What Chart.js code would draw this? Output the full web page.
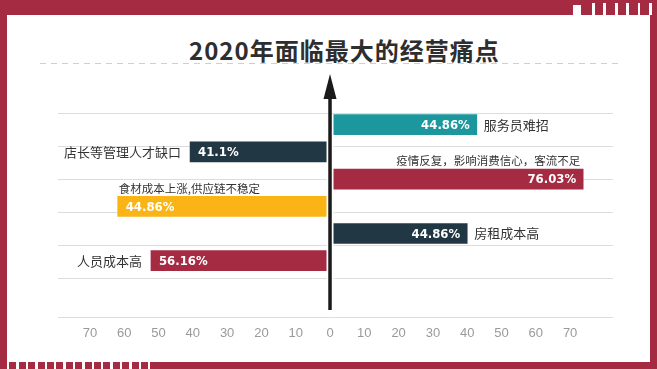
<!DOCTYPE html>
<html>
<head>
<meta charset="utf-8">
<script src="https://cdn.jsdelivr.net/npm/chart.js@4.4.1/dist/chart.umd.min.js"></script>
<style>
  body { margin: 0; background: #fff; }
  #wrap { position: relative; width: 657px; height: 369px; overflow: hidden; background: #fff; }
  .red { position: absolute; background: #a52b42; }
  .white { position: absolute; background: #fff; }
  #title {
    position: absolute; left: 189px; top: 32px; line-height: 24px;
    font: bold 24px "Noto Sans CJK SC", sans-serif; letter-spacing: 1px; color: #2e2e2e;
    white-space: nowrap;
  }
  #dash {
    position: absolute; left: 40px; top: 63px; width: 580px; height: 1px;
    background: repeating-linear-gradient(90deg, #cfcfcf 0 6px, transparent 6px 11px);
  }
  canvas { position: absolute; left: 0; top: 0; }
</style>
</head>
<body>
<div id="wrap">
  <div class="red" style="left:0;top:0;width:657px;height:15px"></div>
  <div class="red" style="left:0;top:0;width:7px;height:362px"></div>
  <div class="red" style="left:650px;top:0;width:7px;height:369px"></div>
  <div class="red" style="left:152px;top:362px;width:505px;height:7px"></div>
  <div style="position:absolute;left:0;top:362px;width:152px;height:7px;background:repeating-linear-gradient(90deg,#a52b42 0 7px,#fff 7px 9.4px)"></div>
  <div class="white" style="left:573px;top:5px;width:8px;height:10px"></div>
  <div style="position:absolute;left:592px;top:3px;width:60px;height:12px;background:repeating-linear-gradient(90deg,#fff 0 2.5px,transparent 2.5px 11.5px)"></div>
  <div id="title">2020年面临最大的经营痛点</div>
  <div id="dash"></div>
  <canvas id="chart" width="657" height="369"></canvas>
</div>
<script>
// rows from top to bottom; negative values sit left of the axis
const NAMES = ['服务员难招', '店长等管理人才缺口', '疫情反复，影响消费信心，客流不足', '食材成本上涨,供应链不稳定', '房租成本高', '人员成本高'];
const PCT_TEXT = ['44.86%', '41.1%', '76.03%', '44.86%', '44.86%', '56.16%'];
const BAR_VALUES = [42.8, -40.8, 73.8, -61.9, 40.0, -52.2];
const X_TICKS = [-70, -60, -50, -40, -30, -20, -10, 0, 10, 20, 30, 40, 50, 60, 70];

const BAR_COLORS = ['#1d979e', '#213744', '#a52b42', '#fbb416', '#213744', '#a52b42'];

const arrowPlugin = {
  id: 'arrow',
  afterDatasetsDraw(chart) {
    const ctx = chart.ctx;
    const x0 = chart.scales.x.getPixelForValue(0);
    ctx.save();
    ctx.strokeStyle = '#fff';
    ctx.lineWidth = 7;
    ctx.beginPath();
    ctx.moveTo(x0, 114);
    ctx.lineTo(x0, 312);
    ctx.stroke();
    ctx.strokeStyle = '#1a1a1a';
    ctx.lineWidth = 3.5;
    ctx.beginPath();
    ctx.moveTo(x0, 96);
    ctx.lineTo(x0, 310);
    ctx.stroke();
    ctx.fillStyle = '#1a1a1a';
    ctx.beginPath();
    ctx.moveTo(x0, 74);
    ctx.lineTo(x0 + 6.5, 99);
    ctx.lineTo(x0 - 6.5, 99);
    ctx.closePath();
    ctx.fill();
    ctx.restore();
  }
};

const labelPlugin = {
  id: 'labels',
  afterDatasetsDraw(chart) {
    const ctx = chart.ctx;
    const meta = chart.getDatasetMeta(0);
    ctx.save();
    ctx.textBaseline = 'middle';
    meta.data.forEach((el, i) => {
      const right = BAR_VALUES[i] > 0;
      // percentage inside the bar, near its outer end
      ctx.fillStyle = '#fff';
      ctx.font = 'bold 13px "DejaVu Sans Condensed", "DejaVu Sans", sans-serif';
      ctx.textAlign = right ? 'right' : 'left';
      ctx.fillText(PCT_TEXT[i], right ? el.x - 7 : el.x + 8, el.y + 1);

      // category name
      ctx.fillStyle = '#333';
      if (NAMES[i].length > 10) {
        ctx.font = '11.5px "Noto Sans CJK SC", sans-serif';
        ctx.textAlign = right ? 'right' : 'left';
        ctx.fillText(NAMES[i], right ? el.x - 3 : el.x + 1, el.y - 18);
      } else {
        ctx.font = '13px "Noto Sans CJK SC", sans-serif';
        ctx.textAlign = right ? 'left' : 'right';
        ctx.fillText(NAMES[i], right ? el.x + 7 : el.x - 9, el.y);
      }
    });
    ctx.restore();
  }
};

new Chart(document.getElementById('chart').getContext('2d'), {
  type: 'bar',
  data: {
    datasets: [{
      data: BAR_VALUES.map((v, i) => ({ x: v, y: i })),
      backgroundColor: BAR_COLORS,
      barThickness: 20,
      borderWidth: 0,
    }],
  },
  options: {
    indexAxis: 'y',
    responsive: false,
    animation: false,
    layout: { padding: { left: 58, right: 44, top: 113, bottom: 22 } },
    plugins: { legend: { display: false }, tooltip: { enabled: false } },
    scales: {
      x: {
        type: 'linear',
        min: -79.3,
        max: 82.5,
        grid: { display: false, drawTicks: false },
        border: { display: false },
        afterBuildTicks: (s) => { s.ticks = X_TICKS.map((v) => ({ value: v })); },
        afterFit: (s) => { s.height = 30; },
        ticks: {
          autoSkip: false,
          maxRotation: 0,
          padding: 9,
          color: '#9a9a9a',
          font: { family: 'Liberation Sans', size: 13 },
          callback: (v) => Math.abs(v),
        },
      },
      y: {
        type: 'linear', reverse: true, offset: false, grid: { offset: false },
        min: -0.43, max: 7.07, display: false,
      },
      g: {
        type: 'linear',
        position: 'left',
        reverse: true,
        offset: false,
        min: 0,
        max: 6.18,
        ticks: { display: false, stepSize: 1 },
        grid: {
          offset: false,
          color: (c) => (c.tick && c.tick.value === 6 ? 'rgba(0,0,0,0)' : '#dcdcdc'),
          drawTicks: false,
        },
        border: { display: false },
      },
    },
  },
  plugins: [arrowPlugin, labelPlugin],
});
</script>
</body>
</html>
